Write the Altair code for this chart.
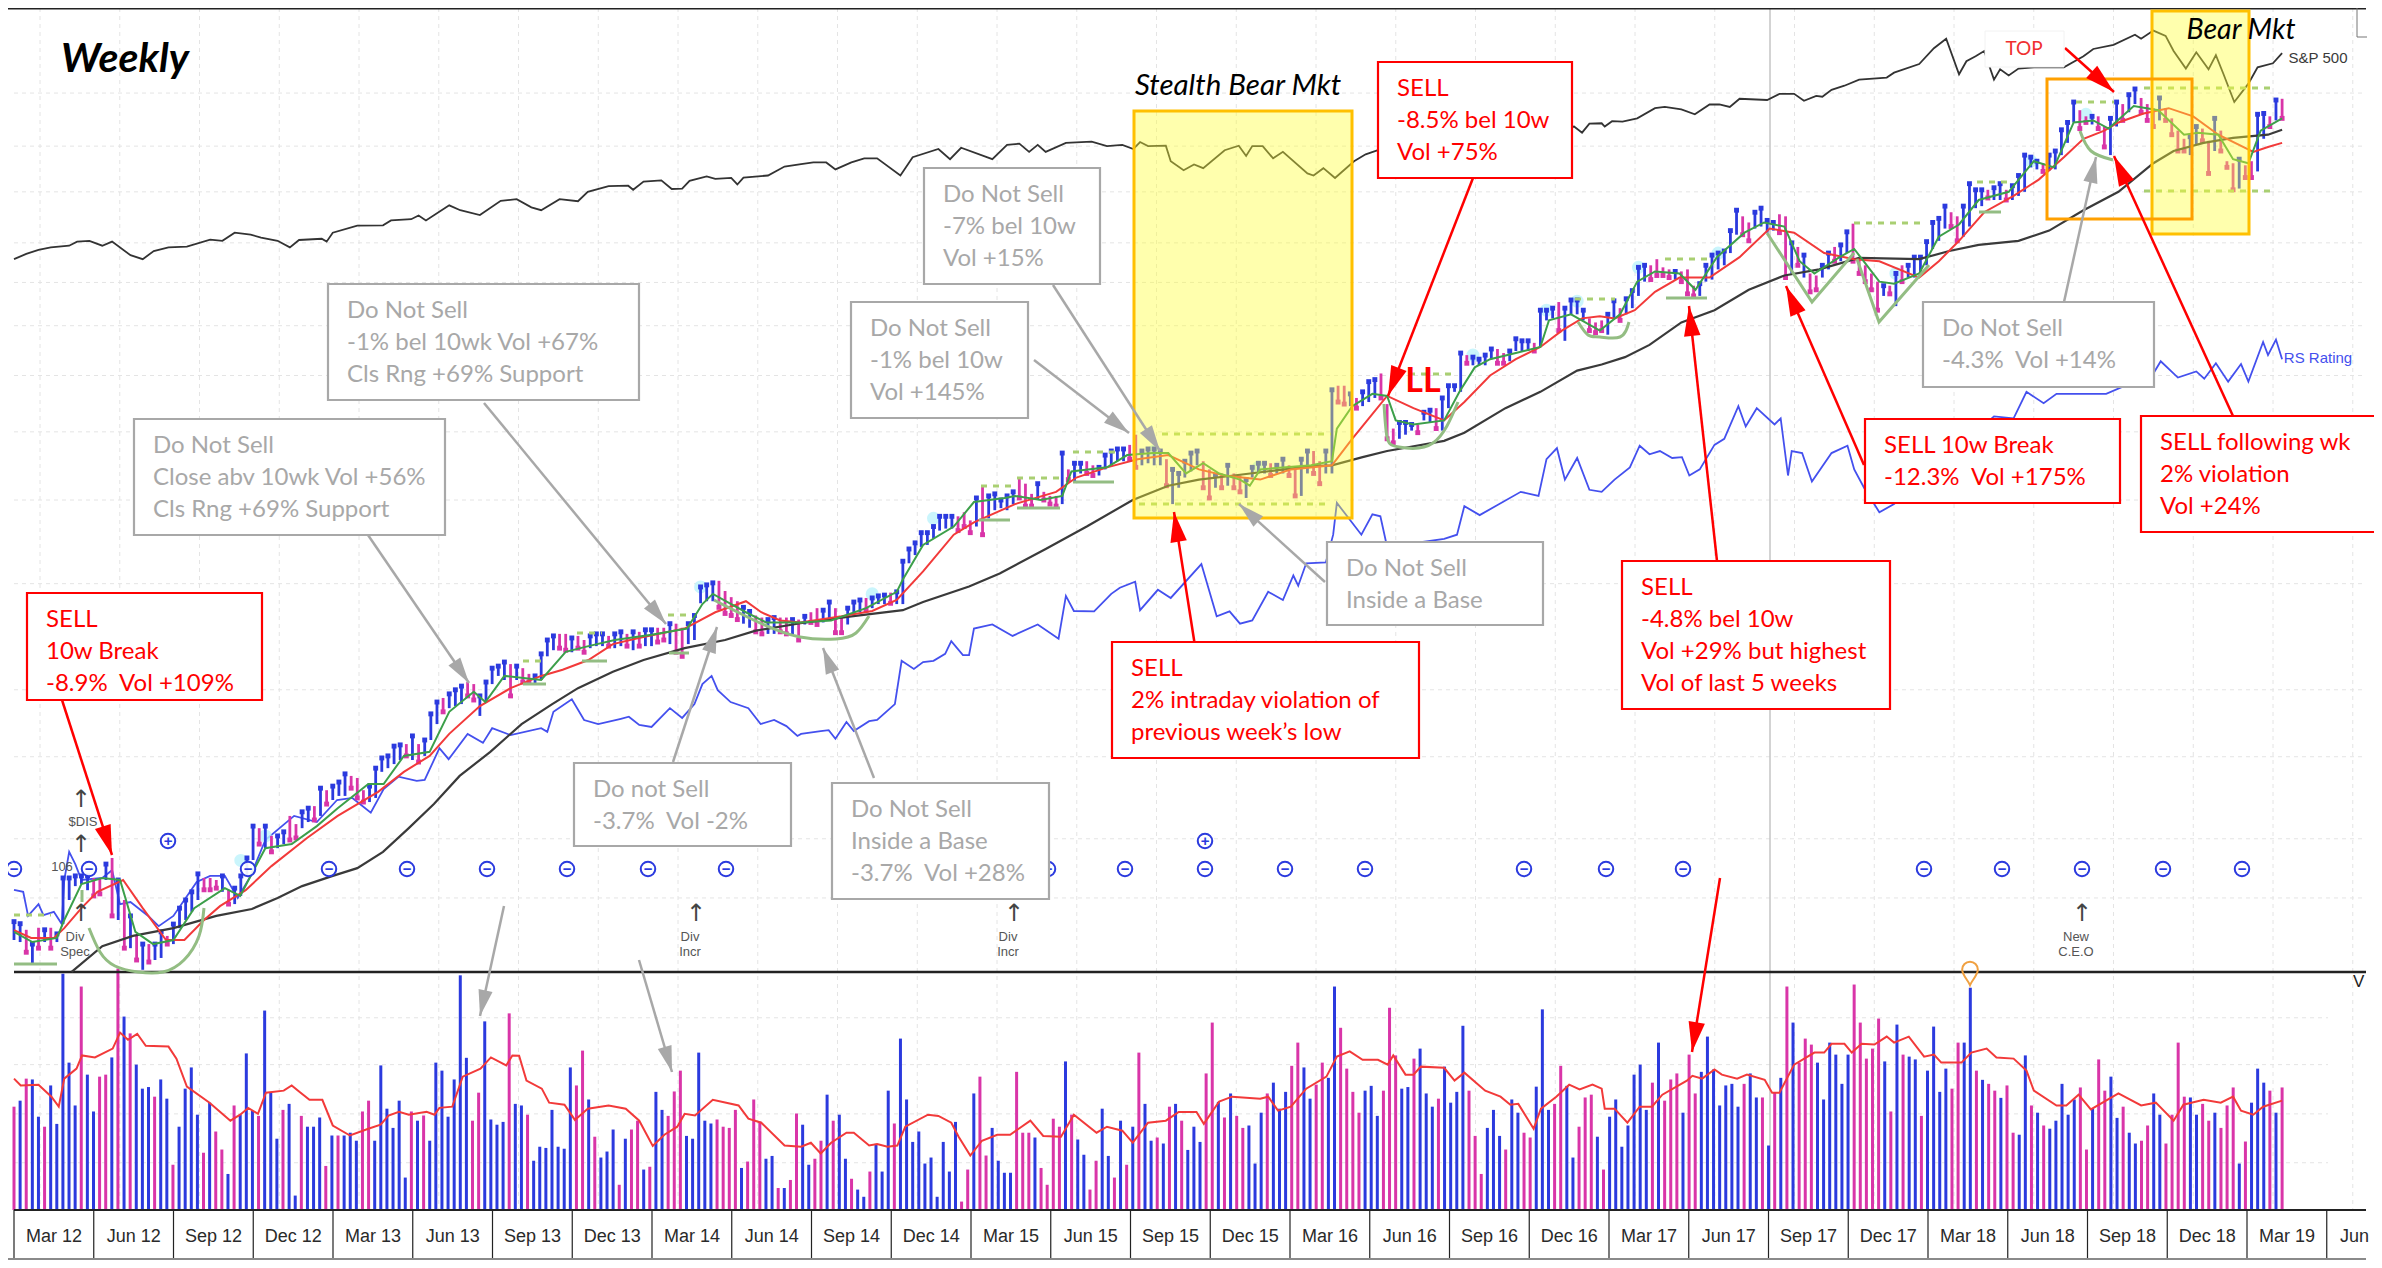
import math
import altair as alt
import pandas as pd

alt.data_transformers.disable_max_rows()

BLUE, MAG, RSB = "#2b3ade", "#d935a8", "#4450ee"
RED, GREEN, BLK = "#f23a3a", "#3c9f4a", "#3a3a3a"
GREY, SRED = "#a8a8a8", "#ff0000"
WK = 6.13
LV = 2.45
VU = 2.497
NB = "\u00a0"

# quarter labels of the date axis
quarters = ["Mar 12","Jun 12","Sep 12","Dec 12","Mar 13","Jun 13","Sep 13","Dec 13","Mar 14","Jun 14",
            "Sep 14","Dec 14","Mar 15","Jun 15","Sep 15","Dec 15","Mar 16","Jun 16","Sep 16","Dec 16",
            "Mar 17","Jun 17","Sep 17","Dec 17","Mar 18","Jun 18","Sep 18","Dec 18","Mar 19"]
last_quarter = "Jun"

# weekly volume
volume = [258,273,328,326,233,208,311,215,590,368,261,558,338,246,333,338,381,603,483,441,
363,303,307,283,326,278,113,208,303,356,238,143,268,196,151,90,261,238,391,248,
235,498,293,178,250,265,36,235,208,208,231,110,186,186,186,193,173,246,273,173,
361,253,205,273,81,246,223,236,173,368,348,233,326,586,380,223,293,471,226,213,
220,491,265,261,238,123,158,155,250,158,153,356,311,398,276,183,131,146,201,63,
178,201,223,101,108,295,250,235,296,348,185,178,393,223,216,226,208,205,250,105,
121,276,221,128,135,55,55,75,241,
213,113,128,173,288,223,238,128,78,51,33,96,165,96,298,216,428,276,170,196,
116,131,33,170,96,220,21,101,291,333,136,205,123,93,93,345,193,193,181,105,
63,228,208,371,238,176,138,51,123,253,135,81,223,113,208,393,265,173,181,166,
258,265,223,150,208,170,341,468,270,231,291,235,205,211,116,243,291,318,253,295,
360,418,356,278,313,368,330,558,455,353,295,243,298,310,235,298,505,386,303,307,
378,403,291,258,278,358,268,295,460,298,185,90,205,250,185,151,276,243,193,181,
308,501,250,265,360,310,131,208,281,288,183,
101,233,276,158,211,338,363,250,318,418,273,326,341,243,388,291,345,433,351,261,
311,315,258,315,341,281,281,161,293,330,558,468,368,428,413,368,276,418,388,315,
388,563,468,378,403,478,371,246,463,388,383,376,235,348,458,295,353,303,418,418,
555,348,325,315,298,280,311,193,188,386,261,243,211,203,223,315,238,276,306,151,
253,376,298,333,230,258,193,166,173,211,291,238,166,238,418,283,281,238,265,223,
243,205,261,306,116,171,268,353,318,298,243,306]
volume_side = ("mbmbbmbbbb" "bmbbmmbmbm" "bbbmbbmbbb" "bmbmmbmbbb" "mbbbmbbmbb" "bmbmbbbmmb" "bbbbbmbmbb"
 "bbbbbmmbbb" "bmbbmbbbbb" "bbmmbmbbbm" "bmmbmbbmmm" "bbbbbmmmmb" "mmmbbmbmm"
 "bbmmbmbbmb" "bmbbbmbbbb" "bbbbbbmmbm" "mbbbbmmmbm" "mmmbmbbmmb" "bmbmbmbbmb" "mbmbbbmmbm"
 "bmmbbbmbbb" "mmbbmmbbmm" "mmbbbmmmbb" "mbbbmbbbbm" "mmbbbmbbmm" "bbbmmbbmmmb"
 "mbbbbbbbmb" "mmmbmmbbbb" "bbbmbbmbmb" "mbmmmbbbbb" "bmmmmmbmbm" "bbmbbbbmmb" "bmbmmbmmbb"
 "mbmbbbbbmm" "bmmbbmbbmm" "bbmmmmbbmm" "bmmmbmbbbm" "bm")

# weekly price bars: high and low
price_range = [(-690,-735),(-695,-740),(-710,-765),(-745,-795),(-705,-755),(-710,-740),(-705,-755),(-720,-740),(-583,-696),(-583,-637),
(-578,-603),(-578,-598),(-578,-613),(-583,-627),(-583,-622),(-549,-588),(-534,-676),(-588,-686),(-637,-755),(-676,-755),
(-725,-784),(-745,-808),(-745,-789),(-745,-784),(-715,-779),(-725,-745),(-696,-745),(-657,-706),(-637,-686),(-617,-666),
(-573,-637),(-583,-612),(-583,-612),(-588,-608),(-578,-617),(-612,-647),(-608,-647),(-578,-627),(-534,-578),(-456,-539),
(-461,-500),(-456,-510),(-480,-519),(-480,-510),(-470,-500),(-431,-490),(-451,-485),(-421,-461),(-412,-446),(-407,-441),
(-363,-431),(-368,-402),(-358,-392),(-348,-382),(-328,-382),(-333,-363),(-338,-387),(-368,-397),(-358,-397),(-314,-387),
(-289,-323),(-284,-314),(-260,-304),(-257,-294),(-255,-284),(-235,-294),(-255,-299),(-245,-284),(-181,-245),(-152,-206),
(-142,-176),(-132,-167),(-122,-162),(-113,-157),(-103,-137),(-108,-147),(-137,-186),(-103,-152),(-69,-108),(-64,-88),
(-54,-98),(-59,-137),(-64,-98),(-69,-103),(-83,-103),(-88,-108),(-34,-98),(0,-40),(10,-25),(15,-20),
(15,-25),(5,-30),(10,-20),(0,-30),(10,-20),(15,-15),(15,-15),(10,-15),(15,-20),(20,-15),
(15,-15),(20,-25),(20,-15),(25,-15),(25,-15),(30,-5),(30,0),(40,-10),(40,-30),(30,-40),
(40,-10),(60,0),(130,90),(135,95),(140,95),(145,80),(120,65),(105,60),(95,50),(80,40),
(70,30),(60,20),(55,15),(50,15),(55,15),(55,20),(55,15),(50,10),(50,0),
(58,38),(68,43),(78,38),(73,43),(93,48),(78,18),(58,18),(78,38),(93,58),(98,68),
(103,73),(103,78),(108,88),(110,88),(116,90),(118,88),(193,88),(223,188),(238,208),(263,228),
(263,233),(278,248),(303,268),(303,273),(303,273),(303,268),(313,278),(293,263),(348,278),(378,258),
(353,298),(358,318),(343,323),(353,318),(363,333),(398,348),(383,328),(358,328),(383,343),(363,343),
(353,333),(353,328),(458,333),(418,393),(433,388),(433,408),(438,408),(428,403),(423,403),(453,418),
(463,428),(468,438),(468,438),(478,443),(503,423),(463,428),(468,433),(468,428),(463,428),(443,378),
(418,333),(408,373),(438,398),(458,413),(463,428),(438,373),(418,348),(403,373),(408,373),(428,378),
(408,373),(403,363),(393,348),(423,398),(433,408),(433,408),(433,403),(428,408),(443,408),(428,403),
(423,353),(443,353),(463,408),(463,408),(438,383),(463,408),(613,408),(623,583),(623,578),(603,573),
(593,568),(608,573),(633,583),(638,593),(653,593),(578,493),(518,483),(533,493),(533,503),(528,513),
(528,508),(558,538),(563,533),(568,518),(593,513),(623,568),(623,608),(703,608),(698,678),(693,673),
(688,673),(698,673),(713,688),(713,678),(703,678),(708,683),(738,708),(733,708),(733,708),(728,708),
(808,718),(808,783),(813,788),(828,758),(813,733),(833,798),(833,798),(808,783),(788,758),(778,753),
(783,758),(798,748),(831,788),(813,783),(836,798),(856,813),(913,843),(918,878),(918,883),(933,893),
(913,893),(908,888),(903,883),(903,878),(908,848),(868,843),(873,843),(918,878),(943,883),(948,908),
(953,918),(1003,948),(1053,993),(1038,993),(1023,978),(1048,1008),(1058,1013),(1028,998),(1023,1003),(1043,998),
(1038,888),(973,898),(963,918),(943,888),(898,853),(893,858),(918,888),(948,908),(963,928),(968,928),
(1000,948),(1020,928),(938,898),(918,878),(898,858),(878,808),(868,843),(868,848),(898,818),(918,878),
(918,888),(938,888),(938,898),(976,918),(1023,958),(1033,978),(1063,1008),(1048,1013),(1038,978),(1063,988),
(1118,1013),(1103,1058),(1103,1063),(1103,1083),(1108,1078),(1118,1078),(1103,1078),(1113,1078),(1138,1088),(1188,1098),
(1183,1158),(1173,1153),(1168,1148),(1188,1150),(1198,1153),(1250,1188),(1268,1218),(1318,1268),(1298,1253),(1283,1268),
(1283,1263),(1283,1253),(1258,1208),(1278,1188),(1318,1258),(1313,1273),(1336,1293),(1350,1313),(1328,1293),(1313,1273),
(1303,1258),(1328,1273),(1303,1273),(1278,1238),(1248,1198),(1228,1198),(1233,1188),(1258,1213),(1253,1223),(1223,1143),
(1278,1198),(1248,1198),(1173,1158),(1168,1103),(1178,1106),(1163,1133),(1173,1133),(1288,1148),(1290,1228),(1283,1258),
(1323,1273),(1326,1278)]
price_side = ("bbmbmbmbbb" "bbbmmbmbmb" "mbmbbmbbbb" "bmmmbmbbbb" "mbmbbmmbbm" "bmbbbmmmbb" "bbbbmbmbbb"
 "mbbbmmbbbb" "bmbmmbbbbm" "mbmmbbbmbb" "mbmbbmmbmm" "bbbbbmmmmb" "bmmbbmmbm"
 "bmmbbmmbbb" "mbbbmbbbbb" "bbbbbmmmbm" "bbbbbmmmbm" "mmbmbbmmbb" "bbbmmbbbbm" "bbbbbmmbmb"
 "mmbbbbmbbm" "mbbmmbbmmb" "mbbbmmmbbb" "mbbmbbbbmb" "bbbmmbbbbm" "bbbmbbbbmm"
 "mbbmbbbbmm" "mmbmmmbbbb" "bbbmmbbbbm" "mbmbmmbbmb" "bmmmmmbmbm" "bbbbbbbmmb" "bbbmbbmbbb"
 "bbmbbbbbmm" "bmmbbmbbmm" "mbmmmmbbmm" "bmmmbmmbbmbm")

# line series: (week, level)
sp500 = [(0,933),(2,946),(4,956),(6,962),(9,966),(10.3,976),(12.3,978),(14.4,966),(16,976),(19,943),(21,933),(22.8,953),(25.2,962),(28.2,964),(32,981),(34,978),(36,998),(38.6,993),(40.3,986),(43,978),(45,962),(46.5,980),(50.2,983),(51,976),(52,998),(56,1015),(60.2,1016),(61.5,1028),(64.8,1031),(66,1040),(67.2,1028),(71,1065),(72.8,1053),(76,1041),(79.4,1076),(82,1080),(84.4,1060),(86,1053),(89,1080),(92,1075),(93.6,1098),(97,1112),(100.2,1113),(101,1103),(102.7,1123),(105.6,1126),(107.3,1105),(109,1106),(110.2,1125),(113,1136),(114.4,1130),(117,1132),(118,1116),(119,1133),(123,1138),(125.7,1160),(128.4,1166),
(130.4,1170),(132.5,1170),(134,1153),(136.6,1170),(138.7,1180),(140.8,1180),(144.6,1138),(146.6,1183),(150.8,1203),(152.7,1178),(154.5,1206),(159.6,1178),(162,1213),(164,1216),(165.6,1196),(167,1213),(168.3,1196),(171.6,1218),(175.8,1221),(178.3,1210),(180.8,1213),(182.6,1203),(183.7,1220),(185,1210),(187.9,1211),(188.7,1173),(190.8,1151),(192.5,1165),(194,1156),(197.5,1200),(199.8,1211),(201,1186),(202,1210),(203.7,1210),(205.4,1180),(207,1196),(211,1143),(212,1138),(213.6,1156),(215.5,1132),(218.6,1173),(220.5,1190),(222.5,1200),(225,1205),(232,1230),(240,1235),(248,1240),(254.5,1258),(255.8,1243),(257,1265),(259,1266),
(259.5,1258),(260.7,1271),(262.4,1270),(264.8,1278),(267.7,1303),(269.3,1306),(272,1300),(274.2,1288),(276.6,1312),(278.2,1312),(279.9,1306),(281.5,1326),(286,1323),(288,1338),(290.4,1338),(292,1321),(294,1333),(295,1331),(296.5,1348),(298.6,1358),(301,1373),(305.5,1378),(306.7,1390),(310.8,1411),(313.2,1450),(315.2,1473),(317.3,1386),(318.5,1418),(320,1430),(321.4,1443),(323,1373),(324,1398),(325.4,1383),(327,1400),(329.5,1403),(334.4,1403),(337.6,1430),(339.2,1448),(342.5,1458),(346,1483),(347,1473),(349,1493),(351,1480),(352.3,1443),(354.3,1400),(356,1440),(358,1398),(359.2,1433),(360.4,1388),(362.2,1318),(364.5,1363),(366,1403),(368.5,1413),(370,1438)]

rs_rating = [(0,-612),(1.5,-617),(2.3,-676),(4,-647),(4.8,-674),(6.5,-666),(7.8,-696),(8.2,-588),(9,-519),(10,-549),(11,-588),(14.4,-583),(16,-564),(17.3,-647),(19,-642),(21.9,-676),(23.6,-701),(26,-676),(29.8,-593),(32,-578),(34.4,-578),(36.5,-632),(38.6,-578),(41,-490),(45.7,-431),(49.4,-446),(52.7,-392),(55.2,-387),(58.2,-423),(60.3,-365),(62.7,-335),(65.7,-345),(67,-343),(69.4,-265),(70.9,-292),(74,-230),(76.5,-252),(78,-216),(81,-233),(86,-216),(87,-225),(88,-176),(91,-145),(93,-196),(95.3,-206),(99,-193),(100.3,-188),(102,-208),(104,-213),(107,-167),(109,-191),(111,-157),(112.3,-108),(113.8,-88),(114.8,-123),(116.9,-152),(119.8,-167),(121.8,-206),(124,-196),(126,-211),(127.8,-235),(128.4,-230),
(131.6,-223),(132.9,-221),(134,-242),(135.8,-201),(137,-223),(139.5,-199),(140.8,-196),(143.7,-157),(144.8,-51),(146.8,-71),(148.3,-54),(150,-51),(151.9,-34),(152.9,-3),(154.8,-37),(155.8,-37),(156.6,28),
(159.6,38),(162.9,10),(167,38),(170.4,3),(171.6,108),(172.9,71),(176.2,70),(179,113),(180.4,128),(182.9,143),(183.7,73),(186.6,123),(188.7,103),(193.7,186),(196.2,58),(198.3,70),(200,40),(202,48),(204.6,118),(207,98),(208.7,158),(209.5,133),(210.8,188),(214,190),(215.2,258),(215.8,336),(219.8,258),(221.6,308),(222.9,303),(224,228),(233.3,248),(235.4,258),(236.6,328),(239.1,306),(245.8,363),(248.7,353),(250,443),(251.7,470),(253,393),(255,446),(257,368),(259,363),
(261.1,393),(263.6,423),(265.2,476),(266.8,455),(268.5,463),(270.5,446),(272.1,448),(273.3,403),(275,418),(277.4,478),(279,493),(281.3,573),(282.5,523),(284.3,568),(287.2,528),(288.2,543),(289.4,403),(290,463),(291.7,458),(293.3,388),(296.5,458),(299.1,476),(300.2,418),(301.8,373),(304.3,313),(306.7,333),(323,548),(326.2,543),(328.3,608),(331.1,580),(333.2,603),(341.3,603),(349,653),(350.2,683),(353,643),(356,658),(357.3,640),(359.2,678),(361.2,633),(363.3,676),(364.5,633),(366.9,730),(367.7,698),(369,736),(370,688)]

ma_40w = [(9.4,-813),(14.4,-750),(19.4,-725),(26,-706),(33,-676),(38.8,-659),(43,-632),(47,-603),(52,-578),(56,-559),(60.2,-519),(64.4,-461),(68.5,-402),(72.7,-333),(77.7,-274),(82.8,-206),(87.8,-157),(92,-118),(97.7,-78),(102.7,-49),(109.4,-20),(116,0),(121,23),(128.3,41),(136.6,58),(145,73),(148.3,93),(155.8,131),(160.8,163),(168.3,223),(175,278),(182.5,343),(188.3,378),(193.3,393),(199,403),(203.3,411),(211.6,426),(215,428),(220,448),(224,463),(233.3,488),(236.6,508),(243.3,568),(249,608),(255,660),(259,675),(262.8,693),(266.8,723),(272,778),(277.4,808),(283,858),(288.8,893),(294.5,908),(301,936),(310.8,933),(315.7,953),(320.5,968),(327,978),(332,1003),(337.6,1053),(343.3,1098),(349,1168),(352.3,1198),(357.2,1218),(362,1230),(367.7,1238),(370,1250)]

ma_10w = [(0,-711),(2.8,-730),(6.5,-730),(8.2,-706),(11,-657),(13.6,-617),(17.8,-588),(21,-657),(24.8,-735),(27.8,-735),(31,-686),(33.6,-652),(37.8,-613),(42,-554),(47.8,-485),(52.8,-431),(59.4,-372),(63.6,-323),(67.8,-284),(71,-230),(76,-162),(81,-118),(86,-88),(89.5,-73),(93.7,-49),(97.7,-10),(101.9,5),(109.4,28),(114.4,68),(119.4,95),(121.9,68),(125,48),(128.3,43),(135,58),(140,71),(144,98),(148.3,168),(153.3,258),(156.6,288),(163.3,333),(170,363),(173.3,398),(178.3,423),(183.3,443),(188.3,453),(193.3,418),(197.5,403),(203.3,393),(208.3,418),(215,428),(218.3,493),(224,598),(228.3,568),(233.3,538),(236.6,583),(240.8,648),(245,688),(249,718),(252.5,758),(255.8,788),(258.7,793),(261.1,788),(264.4,808),(267.7,853),(271.7,888),(276.6,888),(281.5,938),(286.4,1008),(290.4,998),(295.3,948),(300.2,933),(304.3,928),(310.8,888),(314,928),(317.3,978),(321.4,1048),(326.2,1088),(330.3,1128),(334.4,1183),(337.6,1228),(341,1248),(343.3,1268),(347.4,1290),(351.5,1303),(355.5,1283),(359.6,1238),(365.3,1196),(367.7,1208),(370,1218)]

ma_short = [(0,-715),(3,-740),(7,-730),(8.2,-686),(11,-598),(14.4,-583),(17.3,-588),(19.8,-715),(22.7,-745),(26,-735),(29.4,-657),(34.4,-608),(36.9,-627),(41,-510),(45.3,-500),(49.4,-456),(52.8,-412),(57.8,-353),(60.3,-353),(63.6,-284),(67.8,-274),(71,-176),(75,-127),(76.9,-152),(80,-88),(86,-98),(90,-29),(93.7,-15),(98,0),(104,13),(109.8,28),(112.3,88),(114,113),(117,88),(119.4,68),(122.7,43),(128.3,43),(133.3,48),(139,78),(144,118),(145,148),(148.3,233),(153.3,278),(156.6,338),(161.6,348),(163.3,353),(167.5,343),(171,353),(172.5,413),(178.3,423),(181.6,453),(185.8,458),(188.3,458),(191.2,408),(194,433),(196.6,408),(200,393),(201.6,378),(203.3,418),(211.6,428),(215,438),(215.8,518),(218.3,573),(221.6,603),(224,598),(225.4,538),(228.3,528),(233.3,538),(235.8,608),(238.3,668),(240.8,688),(245,703),(249,718),(250.4,783),(254,798),(258.7,758),(262,798),(264.8,878),(267.7,903),(271.7,898),(274.3,858),(277.8,938),(282.3,998),(285.5,1023),(288.8,1013),(291.3,928),(293.7,898),(297.8,938),(300.2,958),(304.3,878),(306.7,873),(310.8,898),(314,988),(317.3,1018),(320.5,1078),(325.4,1098),(329.5,1173),(332.8,1158),(336,1268),(339.2,1273),(341.7,1253),(345.8,1308),(349.8,1298),(354,1238),(356.3,1243),(359.6,1238),(362,1178),(364.5,1168),(366.5,1248),(370,1278)]

vol_ma = [(0,328),(1.1,311),(4,313),(6.1,283),(7.3,258),(8.2,328),(10.2,353),(11.1,386),(13.2,381),(16.1,403),(17.3,443),(18.6,425),(20.1,440),(21.5,410),(25.2,408),(26.5,378),(28.2,308),(31.9,268),(35.3,223),(36.9,238),(38.2,255),(39.8,240),(41.1,293),(44,298),(45.3,311),(46.5,296),(48.2,275),(50.3,275),(52,211),(54.8,186),(57.8,203),(59.8,213),(61.1,236),(62.8,245),(64.4,238),(67.3,245),(68.6,238),(69.4,255),(71.5,258),(73.2,333),(76.1,353),(77.8,381),(80.3,361),(81.3,386),(82.4,385),(83.6,323),(86.1,303),(87.3,268),(89.8,263),(91.5,225),(93.6,253),(97,261),(99.8,253),(102,223),(104.2,160),(106.1,188),(108.2,208),(109.4,240),(111.1,236),(114,275),(118.2,261),(119.8,228),(121.9,218),(125.7,161),(128.4,158),
(130,168),(131.6,141),(133.3,168),(135.8,193),(137,193),(139.5,161),(140.8,165),(142.5,158),(144.1,161),(145.4,208),(149.1,238),(150.8,235),(152.9,218),(154.1,183),(156,136),(157.9,173),(160.4,188),(162.5,188),(165.8,223),(167.9,185),(170.8,183),(172.9,238),(176.6,193),(178.3,208),(180.8,198),(182.5,168),(185,218),(187.9,223),(190,245),(192.9,245),(194.1,215),(196.6,271),(198.7,283),(203.3,278),(204.6,283),(206.2,248),(208.3,258),(210.8,303),(214.1,333),(215.8,383),(217.9,396),(220,375),(222.5,375),(224.1,363),(225,386),(227,338),(228.3,338),(229.5,358),(233.3,355),(235,323),(236.6,343),(240,298),(242.5,283),(244.1,263),(245.4,265),(247.9,203),(249.1,253),(251.6,283),(253.7,313),(255.4,301),(257.5,313),(259,303),
(259.5,253),(261.1,253),(263.2,218),(265.2,258),(267.2,258),(268.9,288),(272.9,323),(273.8,335),(275.4,328),(277.4,351),(278.6,338),(281.1,328),(282.7,338),(285.6,325),(286.8,293),(288,293),(290.4,363),(293.7,393),(295.3,393),(296.5,415),(298.6,415),(299.8,393),(301.4,415),(303.5,413),(305.5,433),(306.7,418),(309.1,433),(311.6,383),(313.2,388),(314.4,368),(317.7,368),(319.3,393),(321.8,403),(323.4,381),(326.2,378),(328.3,348),(329.5,298),(333.2,261),(334.8,261),(336.8,288),(338.8,251),(343.3,291),(347,261),(349.4,268),(352.3,223),(353.9,263),(357.2,275),(360,268),(362,283),(363.3,248),(365.3,238),(366.9,258),(370,273)]

# reference levels of the grid
grid_levels = [1340,1210,1098,973,876,770,648,510,343,138,-122,-286,-487,-632]
grid_volumes = [480,363,240,118]

# breakout highlights: (week, level)
highlights = [(37,-540),(41,-480),(112,130),(140,113),(150,298),(186,463),(203,423),(238,698),(250,808),(255,830),
              (265,913),(278,948),(307,898),(329,1173),(338,1288)]

# picture position -> chart units, for the overlaid drawing annotations only
def wk(px): return (px - 14) / WK
def lv(py): return (640 - py) * LV
def vu(py): return (1210 - py) * VU

xs = alt.Scale(domain=[wk(8), wk(2374)], nice=False, zero=False)
ys = alt.Scale(domain=[lv(1260), lv(8)], nice=False, zero=False)
vs = alt.Scale(domain=[vu(1260), vu(8)], nice=False, zero=False)
X = alt.X("x:Q", scale=xs, axis=None)
Y = alt.Y("y:Q", scale=ys, axis=None)
X2 = alt.X2("x2:Q")
Y2 = alt.Y2("y2:Q")
layers = []

def seg_df(segs):
    return pd.DataFrame([dict(x=wk(a), x2=wk(c), y=lv(b), y2=lv(d)) for a, b, c, d in segs])

def rules(segs, **kw):
    layers.append(alt.Chart(seg_df(segs)).mark_rule(**kw).encode(x=X, x2=X2, y=Y, y2=Y2))

def boxes(rows, **kw):
    layers.append(alt.Chart(seg_df(rows)).mark_rect(**kw).encode(x=X, x2=X2, y=Y, y2=Y2))

def texts(rows, **kw):
    df = pd.DataFrame([dict(x=wk(a), y=lv(b), t=t) for a, b, t in rows])
    layers.append(alt.Chart(df).mark_text(**kw).encode(x=X, y=Y, text="t:N"))

def curve(pts, interp="monotone", **kw):
    df = pd.DataFrame([dict(x=wk(a), y=lv(b), o=i) for i, (a, b) in enumerate(pts)])
    layers.append(alt.Chart(df).mark_line(interpolate=interp, **kw).encode(x=X, y=Y, order="o:Q"))

def series(pts, **kw):
    df = pd.DataFrame(pts, columns=["x", "y"])
    layers.append(alt.Chart(df).mark_line(**kw).encode(x=X, y=Y))

# grid
vgrid = [14 + 26 + 79.75 * k for k in range(30)]
rules([(v, 8, v, 1210) for v in vgrid], color="#e4e4e4", strokeDash=[4, 4], strokeWidth=1)
layers.append(alt.Chart(pd.DataFrame({"y": grid_levels, "x": wk(14), "x2": wk(2366)}))
              .mark_rule(color="#e4e4e4", strokeDash=[4, 4], strokeWidth=1).encode(x=X, x2=X2, y=Y))
layers.append(alt.Chart(pd.DataFrame({"y": grid_volumes, "x": wk(14), "x2": wk(2328)}))
              .mark_rule(color="#e4e4e4", strokeDash=[4, 4], strokeWidth=1)
              .encode(x=X, x2=X2, y=alt.Y("y:Q", scale=vs, axis=None)))
rules([(1770, 8, 1770, 1210)], color="#c4c4c4", strokeWidth=1.5)

# volume
side_scale = alt.Scale(domain=["b", "m"], range=[BLUE, MAG])
vdf = pd.DataFrame({"x": [i * 370 / 371 for i in range(len(volume))], "y": volume, "base": 0,
                    "s": list(volume_side)})
layers.append(alt.Chart(vdf).mark_rule(strokeWidth=3).encode(
    x=X, y=alt.Y("y:Q", scale=vs, axis=None), y2=alt.Y2("base:Q"),
    color=alt.Color("s:N", scale=side_scale, legend=None)))
layers.append(alt.Chart(pd.DataFrame(vol_ma, columns=["x", "y"])).mark_line(color=RED, strokeWidth=2)
              .encode(x=X, y=alt.Y("y:Q", scale=vs, axis=None)))

# axis band
rules([(14, 972, 2366, 972)], color="#222222", strokeWidth=2.5)
rules([(8, 8.5, 2366, 8.5)], color="#222222", strokeWidth=2)
rules([(14, 1210, 2366, 1210)], color="#222222", strokeWidth=2)
rules([(8, 1259, 2366, 1259)], color="#8a8a8a", strokeWidth=2)
ticks = [14 + 79.75 * k for k in range(30)]
rules([(t, 1210, t, 1258) for t in ticks], color="#222222", strokeWidth=1.2)
texts([(t + 40, 1237, q) for t, q in zip(ticks, quarters)],
      font="Liberation Sans", fontSize=18, color="#2a2a2a", baseline="middle", align="center")
texts([(2340, 1237, last_quarter)], font="Liberation Sans", fontSize=18, color="#2a2a2a", baseline="middle", align="left")

# price panel
series(sp500, color="#333333", strokeWidth=1.8)
series(rs_rating, color=RSB, strokeWidth=1.8)
hdf = pd.DataFrame(highlights, columns=["x", "y"])
layers.append(alt.Chart(hdf).mark_point(filled=True, color="#bdf2fb", opacity=0.8, size=170).encode(x=X, y=Y))
pdf = pd.DataFrame({"x": range(len(price_range)), "y": [p[0] for p in price_range],
                    "y2": [p[1] for p in price_range], "s": list(price_side)})
pdf["c"] = [h if s == "b" else l for (h, l), s in zip(price_range, price_side)]
colr = alt.Color("s:N", scale=side_scale, legend=None)
layers.append(alt.Chart(pdf).mark_rule(strokeWidth=2.8).encode(x=X, y=Y, y2=Y2, color=colr))
layers.append(alt.Chart(pdf).mark_point(filled=True, shape="square", size=24, opacity=1).encode(
    x=X, y=alt.Y("c:Q", scale=ys, axis=None), color=colr))
series(ma_40w, color=BLK, strokeWidth=2.2)
series(ma_10w, color=RED, strokeWidth=2)
series(ma_short, color=GREEN, strokeWidth=2)

# base lines and base curves
DASH = dict(color="#a9cf72", strokeDash=[6, 6], strokeWidth=3)
rules([(14,915,51,915),(523,661,541,661),(577,633,602,633),(668,615,689,615),(1073,452,1116,452),(1017,478,1063,478),
       (981,486,1014,486),(1139,504,1331,504),(1162,434,1331,434),(1397,374,1453,374),(1575,299,1615,299),
       (1665,259,1710,259),(1854,223,1924,223),(1977,182,2009,182),(2076,102,2114,102),(2144,88,2271,88),(2144,191,2271,191)], **DASH)
SOLID = dict(color="#93bd83", strokeWidth=3)
rules([(14,964,57,964),(523,684,546,684),(582,661,607,661),(669,653,689,653),(979,520,1010,520),(1017,508,1060,508),
       (1073,482,1114,482),(1666,298,1707,298),(1979,212,2001,212),(82,890,82,902)], **SOLID)
curve([(89,928),(100,952),(115,966),(138,972),(163,972),(184,960),(199,936),(204,908)], interp="natural", **SOLID)
curve([(714,600),(760,623),(800,637),(836,639),(856,633),(869,616)], interp="natural", **SOLID)
curve([(1384,404),(1387,437),(1399,447),(1433,443),(1458,402)], interp="natural", **SOLID)
curve([(1578,322),(1588,335),(1600,337),(1620,337),(1629,322)], interp="natural", **SOLID)
curve([(2080,131),(2091,151),(2113,160)], interp="natural", **SOLID)
curve([(1767,233),(1812,302),(1854,253)], interp="linear", **SOLID)
curve([(1857,259),(1879,322),(1929,265)], interp="linear", **SOLID)

# bear market zones
boxes([(1134,111,1352,518)], fill="#ffff33", fillOpacity=0.4, stroke="#ffc000", strokeWidth=3)
boxes([(2152,11,2249,234)], fill="#ffff33", fillOpacity=0.4, stroke="#ffc000", strokeWidth=3)
boxes([(2047,79,2192,219)], fill="#ffffff", fillOpacity=0, stroke="#ffa000", strokeWidth=3)

# rating event markers
minus_x = [14,89,248,329,407,487,567,648,726,1048,1125,1205,1285,1365,1524,1606,1683,1924,2002,2082,2163,2242]
plus_x = [168,1205]
circ = pd.DataFrame([dict(x=wk(a), y=lv(869), t="\u2212") for a in minus_x] + [dict(x=wk(a), y=lv(841), t="+") for a in plus_x])
layers.append(alt.Chart(circ).mark_point(filled=False, fill="#ffffff", fillOpacity=0.9, stroke=BLUE, strokeWidth=2, size=210, opacity=1)
              .encode(x=X, y=Y))
layers.append(alt.Chart(circ).mark_text(font="Liberation Sans", fontWeight="bold", fontSize=15, color=BLUE, baseline="middle", dy=0)
              .encode(x=X, y=Y, text="t:N"))

# corporate events
texts([(81,800,"\u2191"),(81,845,"\u2191"),(81,914,"\u2191"),(696,914,"\u2191"),(1014,914,"\u2191"),(2082,914,"\u2191")],
      font="DejaVu Sans", fontSize=24, color="#444444", baseline="middle")
texts([(83,822,"$DIS"),(62,867,"106"),(75,937,"Div"),(75,952,"Spec"),(690,937,"Div"),(690,952,"Incr"),
       (1008,937,"Div"),(1008,952,"Incr"),(2076,937,"New"),(2076,952,"C.E.O")],
      font="Liberation Sans", fontSize=13, color="#555555", baseline="middle")
pin = "M0,1 C-0.2,0.5 -0.7,0.1 -0.7,-0.4 A0.7,0.7 0 1 1 0.7,-0.4 C0.7,0.1 0.2,0.5 0,1Z"
layers.append(alt.Chart(pd.DataFrame({"x": [wk(1970)], "y": [lv(974)]}))
              .mark_point(shape=pin, filled=False, stroke="#f0a040", strokeWidth=2, size=500, opacity=1).encode(x=X, y=Y))

# arrows
def arrows(rows, color, width, length):
    rules(rows, color=color, strokeWidth=width)
    head = []
    for a, b, c, d in rows:
        dx, dy = c - a, d - b
        n = math.hypot(dx, dy)
        head.append(dict(x=wk(c - dx / n * length / 2), y=lv(d - dy / n * length / 2),
                         a=math.degrees(math.atan2(dx, -dy)) % 360))
    layers.append(alt.Chart(pd.DataFrame(head)).mark_point(
        shape="M0,-1L0.55,1L-0.55,1Z", filled=True, color=color, opacity=1, size=length * length)
        .encode(x=X, y=Y, angle=alt.Angle("a:Q", scale=None)))

arrows([(368,535,469,683),(484,403,666,624),(673,762,717,627),(874,778,823,648),(1053,285,1160,451),(1034,360,1129,433),
        (1325,582,1239,504),(2064,302,2096,157),(504,906,480,1016),(639,960,672,1072)], GREY, 2.5, 26)
arrows([(62,700,112,855),(1473,178,1388,396),(1195,646,1174,512),(1717,561,1689,306),(1864,465,1786,286),
        (2233,416,2114,156),(2065,48,2114,92),(1720,878,1692,1052)], SRED, 2.5, 30)

# call-out boxes
def callout(x0, y0, x1, y1, lines, color):
    boxes([(x0, y0, x1, y1)], fill="#ffffff", stroke=color, strokeWidth=2.2)
    texts([(x0 + 19, y0 + 27 + 32 * i, t) for i, t in enumerate(lines)],
          font="Lato", fontSize=24, color=color, align="left", baseline="middle")

callout(134,419,445,535,["Do Not Sell","Close abv 10wk Vol +56%","Cls Rng +69% Support"],GREY)
callout(328,284,639,400,["Do Not Sell","-1% bel 10wk Vol +67%","Cls Rng +69% Support"],GREY)
callout(27,593,262,700,["SELL","10w Break",f"-8.9%{NB}{NB}Vol +109%"],SRED)
callout(924,168,1100,284,["Do Not Sell","-7% bel 10w","Vol +15%"],GREY)
callout(851,302,1028,418,["Do Not Sell","-1% bel 10w","Vol +145%"],GREY)
callout(1378,62,1572,178,["SELL","-8.5% bel 10w","Vol +75%"],SRED)
callout(1327,542,1543,625,["Do Not Sell","Inside a Base"],GREY)
callout(1112,642,1419,758,["SELL","2% intraday violation of","previous week\u2019s low"],SRED)
callout(574,763,791,846,["Do not Sell",f"-3.7%{NB}{NB}Vol -2%"],GREY)
callout(832,783,1049,899,["Do Not Sell","Inside a Base",f"-3.7%{NB}{NB}Vol +28%"],GREY)
callout(1622,561,1890,709,["SELL","-4.8% bel 10w","Vol +29% but highest","Vol of last 5 weeks"],SRED)
callout(1865,419,2120,503,["SELL 10w Break",f"-12.3%{NB}{NB}Vol +175%"],SRED)
callout(2141,416,2390,532,["SELL following wk","2% violation","Vol +24%"],SRED)
callout(1923,302,2154,387,["Do Not Sell",f"-4.3%{NB}{NB}Vol +14%"],GREY)

boxes([(1985,31,2064,67)], fill="#ffffff", stroke="#f2f2f2", strokeWidth=1)
texts([(2024,49,"TOP")], font="Lato", fontSize=19, color="#f03030", baseline="middle")

# titles and labels
texts([(125,60,"Weekly")], font="Lato", fontSize=41, fontWeight="bold", fontStyle="italic", color="#000000", baseline="middle")
texts([(1238,86,"Stealth Bear Mkt")], font="Lato", fontSize=29.5, fontStyle="italic", color="#000000", baseline="middle")
texts([(2241,30,"Bear Mkt")], font="Lato", fontSize=28.5, fontStyle="italic", color="#000000", baseline="middle")
texts([(1423,382,"LL")], font="Lato", fontSize=34, fontWeight="bold", color=SRED, baseline="middle")
texts([(2318,58,"S&P 500")], font="Liberation Sans", fontSize=15, color="#3a3a3a", baseline="middle")
texts([(2318,358,"RS Rating")], font="Liberation Sans", fontSize=15, color=RSB, baseline="middle")
texts([(2353,982,"V")], font="Liberation Sans", fontSize=17, color="#222222", baseline="middle", align="left")
rules([(2357,8,2357,37),(2357,37,2367,37)], color="#777777", strokeWidth=1)

chart = (alt.layer(*layers)
         .resolve_scale(y="independent")
         .properties(width=2366, height=1252, padding=0,
                     autosize=alt.AutoSizeParams(type="none"))
         .configure_view(stroke=None))
chart.save("out.html", embed_options={"renderer": "svg", "actions": False})
